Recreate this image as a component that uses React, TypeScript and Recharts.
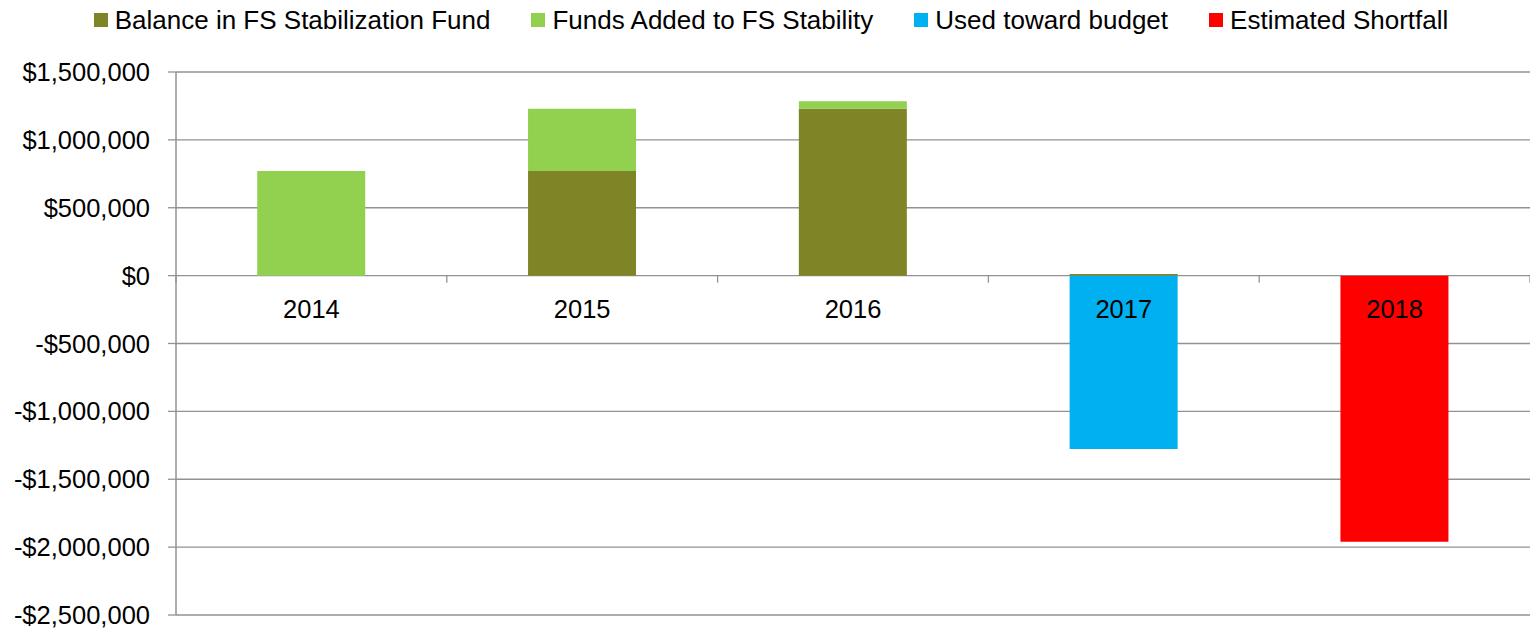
import { BarChart, Bar, XAxis, YAxis, CartesianGrid, Legend } from "recharts";

const years = ["2014", "2015", "2016", "2017", "2018"];
const balance = [0, 770000, 1230000, 12000, 0];
const added = [770000, 460000, 55000, 0, 0];
const used = [0, 0, 0, -1277000, 0];
const shortfall = [0, 0, 0, 0, -1960000];
const yTicks = [1500000, 1000000, 500000, 0, -500000, -1000000, -1500000, -2000000, -2500000];

const SERIES = [
  { key: "balance", name: "Balance in FS Stabilization Fund", color: "#7F8427" },
  { key: "added", name: "Funds Added to FS Stability", color: "#92D050" },
  { key: "used", name: "Used toward budget", color: "#00B0F0" },
  { key: "shortfall", name: "Estimated Shortfall", color: "#FF0000" },
];

const data = years.map((year, i) => ({
  year,
  balance: balance[i],
  added: added[i],
  used: used[i],
  shortfall: shortfall[i],
}));

const W = 1530;
const H = 629;
const AXIS_W = 176;
const TOP = 72;
const BOTTOM = 14;
const X_H = 2;
const PLOT_W = W - AXIS_W;
const PLOT_H = H - TOP - BOTTOM;
const Y_MAX = 1500000;
const Y_MIN = -2500000;
const ZERO_Y = TOP + (PLOT_H * Y_MAX) / (Y_MAX - Y_MIN);
const BAND = PLOT_W / years.length;
const FONT = "'Liberation Sans', Arial, sans-serif";
const GRID = "#929292";

const money = (v: number) =>
  (v < 0 ? "-$" : "$") + Math.abs(v).toLocaleString("en-US");

function YearTick(props: any) {
  const { x, payload, index } = props;
  const last = index === years.length - 1;
  return (
    <g>
      <line x1={x - BAND / 2} x2={x - BAND / 2} y1={ZERO_Y} y2={ZERO_Y + 7} stroke={GRID} strokeWidth={1.3} />
      {last && (
        <line x1={x + BAND / 2} x2={x + BAND / 2} y1={ZERO_Y} y2={ZERO_Y + 7} stroke={GRID} strokeWidth={1.3} />
      )}
      <text x={x} y={ZERO_Y + 42} textAnchor="middle" fill="#000" fontSize={25.5} fontFamily={FONT}>
        {payload.value}
      </text>
    </g>
  );
}

function LegendContent() {
  return (
    <div
      style={{
        display: "flex",
        justifyContent: "center",
        alignItems: "center",
        gap: 41,
        height: 40,
        paddingLeft: 12,
        fontFamily: FONT,
        fontSize: 26,
        color: "#000",
      }}
    >
      {SERIES.map((s) => (
        <div key={s.key} style={{ display: "flex", alignItems: "center" }}>
          <span style={{ width: 14, height: 14, background: s.color, marginRight: 7, display: "inline-block" }} />
          <span>{s.name}</span>
        </div>
      ))}
    </div>
  );
}

export default function App() {
  return (
    <div style={{ position: "absolute", left: 0, top: 0, background: "#fff" }}>
      <BarChart
        width={W}
        height={H}
        data={data}
        stackOffset="sign"
        barCategoryGap="30%"
        margin={{ top: TOP - 40, right: 0, bottom: BOTTOM - X_H, left: 0 }}
      >
        <CartesianGrid vertical={false} stroke={GRID} strokeWidth={1.3} />
        <XAxis
          dataKey="year"
          axisLine={false}
          tickLine={false}
          tick={<YearTick />}
          height={X_H}
          interval={0}
        />
        <YAxis
          width={AXIS_W}
          domain={[Y_MIN, Y_MAX]}
          ticks={yTicks}
          interval={0}
          tickFormatter={money}
          axisLine={{ stroke: GRID, strokeWidth: 1.5 }}
          tickLine={{ stroke: GRID, strokeWidth: 1.3 }}
          tickSize={8}
          tickMargin={18}
          tick={{ fill: "#000", fontSize: 25.5, fontFamily: FONT }}
        />
        <Legend verticalAlign="top" height={40} wrapperStyle={{ top: 0 }} content={<LegendContent />} />
        {SERIES.map((s) => (
          <Bar key={s.key} dataKey={s.key} name={s.name} stackId="a" fill={s.color} isAnimationActive={false} />
        ))}
      </BarChart>
    </div>
  );
}
